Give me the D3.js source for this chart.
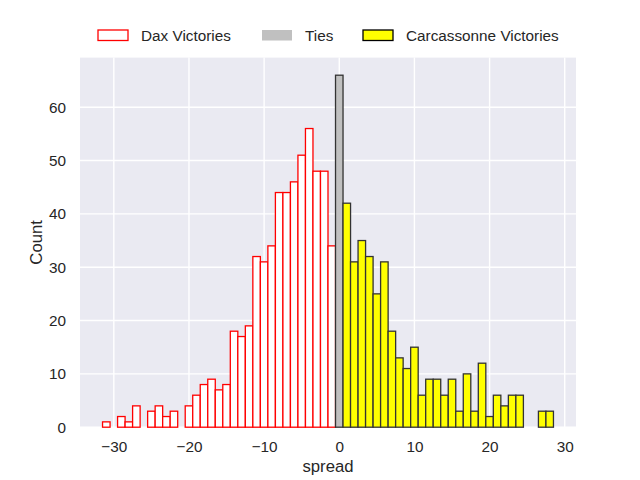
<!DOCTYPE html>
<html>
<head>
<meta charset="utf-8">
<script src="https://cdn.jsdelivr.net/npm/d3@7"></script>
<style>
  body { margin: 0; background: #fff; }
  text { font-family: Arial, "Liberation Sans", sans-serif; fill: #262626; }
</style>
</head>
<body>
<div id="chart"></div>
<script>
// spread values (bin centres) and counts
var daxSpread = d3.range(-31, 0);
var daxCounts = [1, 0, 2, 1, 4, 0, 3, 4, 2, 3, 0, 4, 6, 8, 9, 7, 8, 18, 17, 19, 32, 31, 34, 44, 44, 46, 51, 56, 48, 48, 34];

var tieSpread = [0];
var tieCounts = [66];

var carcSpread = d3.range(1, 29);
var carcCounts = [42, 31, 35, 32, 25, 31, 18, 13, 11, 15, 6, 9, 9, 6, 9, 3, 10, 3, 12, 2, 6, 4, 6, 6, 0, 0, 3, 3];

var xTicks = [-30, -20, -10, 0, 10, 20, 30];
var yTicks = [0, 10, 20, 30, 40, 50, 60];

var W = 640, H = 480;
var margin = { top: 57.6, right: 64, bottom: 52.8, left: 80 },
    width = W - margin.left - margin.right,
    height = H - margin.top - margin.bottom;

var series = [
    { name: "Dax Victories", x: daxSpread, y: daxCounts, fill: "#ffffff", stroke: "#ff0000", sw: 1.3 },
    { name: "Ties", x: tieSpread, y: tieCounts, fill: "#c0c0c0", stroke: "#333333", sw: 1.3, legendStroke: "none" },
    { name: "Carcassonne Victories", x: carcSpread, y: carcCounts, fill: "#ffff00", stroke: "#333333", sw: 1.3 }
];

// matplotlib style 5% margins around the data
var xMin = d3.min(daxSpread) - 0.5, xMax = d3.max(carcSpread) + 0.5;
var xPad = (xMax - xMin) * 0.05;
var yMax = d3.max([d3.max(daxCounts), d3.max(tieCounts), d3.max(carcCounts)]) * 1.05;

var xScale = d3.scaleLinear().domain([xMin - xPad, xMax + xPad]).range([0, width]);
var yScale = d3.scaleLinear().domain([0, yMax]).range([height, 0]);

var fmt = function (d) { return d < 0 ? "\u2212" + Math.abs(d) : String(d); };

var svg = d3.select("#chart").append("svg")
    .attr("width", W)
    .attr("height", H);

var g = svg.append("g")
    .attr("transform", "translate(" + margin.left + "," + margin.top + ")");

// background
g.append("rect")
    .attr("width", width)
    .attr("height", height)
    .attr("fill", "#eaeaf2");

// grid
g.append("g").selectAll("line")
    .data(xTicks).enter().append("line")
    .attr("x1", function (d) { return xScale(d); })
    .attr("x2", function (d) { return xScale(d); })
    .attr("y1", 0).attr("y2", height)
    .attr("stroke", "#fff").attr("stroke-width", 1.4);

g.append("g").selectAll("line")
    .data(yTicks).enter().append("line")
    .attr("y1", function (d) { return yScale(d); })
    .attr("y2", function (d) { return yScale(d); })
    .attr("x1", 0).attr("x2", width)
    .attr("stroke", "#fff").attr("stroke-width", 1.4);

// bars
series.forEach(function (s) {
    var bins = s.x.map(function (v, i) { return { x: v, y: s.y[i] }; })
        .filter(function (d) { return d.y > 0; });
    g.append("g").selectAll("rect")
        .data(bins).enter().append("rect")
        .attr("x", function (d) { return xScale(d.x - 0.5); })
        .attr("width", function (d) { return xScale(d.x + 0.5) - xScale(d.x - 0.5); })
        .attr("y", function (d) { return yScale(d.y); })
        .attr("height", function (d) { return yScale(0) - yScale(d.y); })
        .attr("fill", s.fill)
        .attr("stroke", s.stroke)
        .attr("stroke-width", s.sw);
});

// axes
var xAxis = d3.axisBottom(xScale).tickValues(xTicks).tickFormat(fmt).tickSize(0).tickPadding(14);
var yAxis = d3.axisLeft(yScale).tickValues(yTicks).tickFormat(fmt).tickSize(0).tickPadding(14);

g.append("g")
    .attr("class", "x axis")
    .attr("transform", "translate(0," + height + ")")
    .call(xAxis)
    .call(function (a) { a.select(".domain").remove(); })
    .selectAll("text")
    .attr("fill", "#262626")
    .style("font-size", "15.3px")
    .style("font-family", "Arial, 'Liberation Sans', sans-serif");

g.append("g")
    .attr("class", "y axis")
    .call(yAxis)
    .call(function (a) { a.select(".domain").remove(); })
    .selectAll("text")
    .attr("fill", "#262626")
    .style("font-size", "15.3px")
    .style("font-family", "Arial, 'Liberation Sans', sans-serif");

// axis labels
svg.append("text")
    .attr("x", margin.left + width / 2)
    .attr("y", 472)
    .style("text-anchor", "middle")
    .style("font-size", "16.7px")
    .text("spread");

svg.append("text")
    .attr("transform", "translate(42," + (margin.top + height / 2) + ") rotate(-90)")
    .style("text-anchor", "middle")
    .style("font-size", "16.7px")
    .text("Count");

// legend
var legendX = [98, 262, 363];
var legend = svg.append("g").selectAll("g")
    .data(series).enter().append("g")
    .attr("transform", function (d, i) { return "translate(" + legendX[i] + ",30)"; });

legend.append("rect")
    .attr("width", 30)
    .attr("height", 10.5)
    .attr("fill", function (d) { return d.fill; })
    .attr("stroke", function (d) { return d.legendStroke || (d.name === "Carcassonne Victories" ? "#000" : d.stroke); })
    .attr("stroke-width", 1.3);

legend.append("text")
    .attr("x", 43)
    .attr("y", 5.5)
    .attr("dy", "0.35em")
    .style("font-size", "15.3px")
    .text(function (d) { return d.name; });
</script>
</body>
</html>
